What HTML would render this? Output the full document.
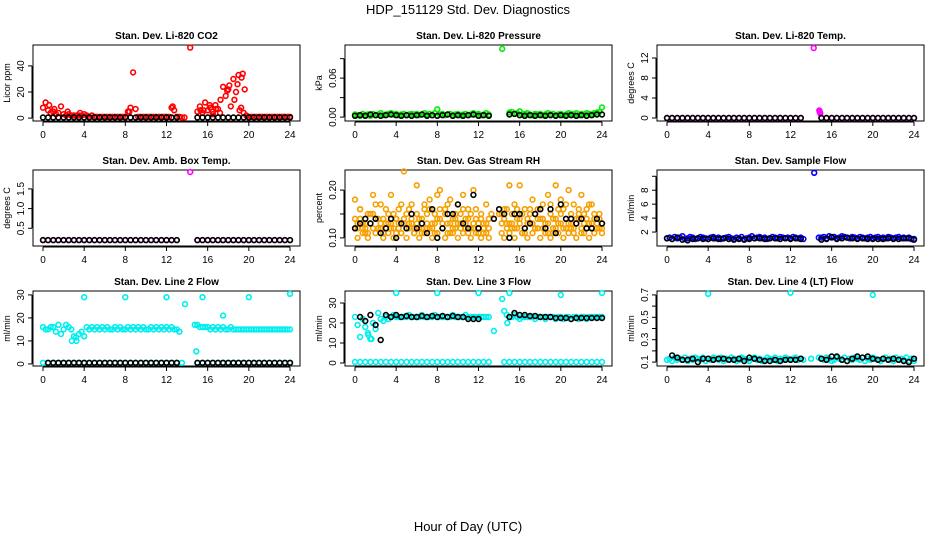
<!DOCTYPE html>
<html><head><meta charset="utf-8"><style>
body{margin:0;background:#fff;}
svg{display:block;font-family:"Liberation Sans",Arial,sans-serif;}
</style></head><body>
<svg id="c" width="936" height="540" viewBox="0 0 936 540">
<text x="468" y="14" text-anchor="middle" font-size="13">HDP_151129  Std. Dev. Diagnostics</text>
<text x="468" y="531" text-anchor="middle" font-size="13">Hour of Day (UTC)</text>
</svg>
<script>
// ---- data (values on 0.25h grid = Q, 0.5h grid = H) ----
const xTicks=[0,4,8,12,16,20,24];
const co2Red=[8,12,6,4,5,3,4,9,3,2,3,2, 2,2,2,2,3,2,1,2,1,1,1,1, 1,1,1,1,1,1,1,1,1,5,8,35, 7,1,1,1,1,1,1,1,1,1,1,1, 1,1,8,6,1,1,0.5,0.5,null,null,null,null, 5,9,4,12,6,8,5,10,7,14,24,17, 22,9,30,20,33,8,4,2,1,1,1,1, 1,1,1,1,1,1,1,1,1,1,1,1, 1];
const co2RedExtraH=[14.3,15.6,16.2,16.8,17.2,17.9,18.1,18.6,19.3,19.1,19.6,0.6,1.1,2.4,3.6,8.4,12.6,15.3,16.5,18.9,19.4];
const co2RedExtraV=[54,6,10,7,4,21,25,14,31,6,22,10,7,5,4,5,9,6,3,26,34];
const co2Black=[0.5,0.5,0.5,0.5,0.5,0.5,0.5,0.5,0.5,0.5,0.5,0.5,0.5,0.5,0.5,0.5,0.5,0.5,0.5,0.5,0.5,0.5,0.5,0.5,0.5,0.5,0.5,null,null,null,0.5,0.5,0.5,0.5,0.5,0.5,0.5,0.5,0.5,0.5,0.5,0.5,0.5,0.5,0.5,0.5,0.5,0.5,0.5];
const presGreen=[.004,.003,.002,.005,.003,.004,.002,.005,.003,.004,.006,.003, .004,.005,.006,.004,.005,.003,.004,.005,.003,.004,.005,.004, .005,.003,.004,.006,.004,.005,.003,.006,.012,.004,.005,.003, .004,.005,.003,.004,.005,.003,.004,.005,.003,.004,.006,.004, .005,.003,.004,.006,.004,null,null,null,null,null,null,null, .007,.008,.005,.006,.009,.004,.005,.006,.004,.003,.005,.004, .005,.003,.004,.006,.004,.005,.003,.004,.005,.003,.004,.006, .005,.004,.006,.003,.005,.004,.006,.005,.004,.006,.007,.008, .015];
const presExtraH=[14.3];const presExtraV=[0.105];
const presBlack=[.002,.003,.002,.004,.003,.002,.003,.004,.003,.002,.003,.002,.003,.004,.002,.003,.002,.003,.004,.002,.003,.002,.003,.004,.002,.003,.002,null,null,null,.004,.005,.003,.002,.003,.002,.003,.002,.003,.002,.003,.002,.003,.002,.003,.002,.003,.004,.004];
const tempMag=[0,0,0,0,0,0,0,0,0,0,0,0,0,0,0,0,0,0,0,0,0,0,0,0,0,0,0,null,null,null,0,0,0,0,0,0,0,0,0,0,0,0,0,0,0,0,0,0,0];
const tempExtraH=[14.25,14.8,14.85,14.9];const tempExtraV=[14,1.5,1.2,0.9];
const tempBlack=[0,0,0,0,0,0,0,0,0,0,0,0,0,0,0,0,0,0,0,0,0,0,0,0,0,0,0,null,null,null,0,0,0,0,0,0,0,0,0,0,0,0,0,0,0,0,0,0,0];
const ambMag=[0.2,0.2,0.2,0.2,0.2,0.2,0.2,0.2,0.2,0.2,0.2,0.2,0.2,0.2,0.2,0.2,0.2,0.2,0.2,0.2,0.2,0.2,0.2,0.2,0.2,0.2,0.2,null,null,null,0.2,0.2,0.2,0.2,0.2,0.2,0.2,0.2,0.2,0.2,0.2,0.2,0.2,0.2,0.2,0.2,0.2,0.2,0.2];
const ambExtraH=[14.3];const ambExtraV=[1.93];
const ambBlack=[0.2,0.2,0.2,0.2,0.2,0.2,0.2,0.2,0.2,0.2,0.2,0.2,0.2,0.2,0.2,0.2,0.2,0.2,0.2,0.2,0.2,0.2,0.2,0.2,0.2,0.2,0.2,null,null,null,0.2,0.2,0.2,0.2,0.2,0.2,0.2,0.2,0.2,0.2,0.2,0.2,0.2,0.2,0.2,0.2,0.2,0.2,0.2];
const rhA=[.18,.13,.16,.12,.11,.15,.13,.19,.14,.12,.17,.11, .13,.15,.19,.12,.14,.16,.11,.239,.15,.13,.17,.12, .21,.14,.11,.16,.13,.18,.12,.15,.19,.20,.13,.16, .11,.18,.14,.12,.17,.15,.19,.13,.16,.12,.20,.14, .11,.15,.13,.17,.12,.15,null,null,.15,.15,.16,.13, .21,.12,.17,.14,.21,.11,.16,.13,.15,.18,.12,.16, .14,.17,.12,.19,.15,.11,.21,.13,.18,.16,.14,.20, .12,.17,.13,.15,.19,.11,.16,.13,.17,.14,.12,.15, .13];
const rhB=[.12,.10,.14,.11,.13,.10,.15,.12,.11,.14,.12,.10, .12,.11,.13,.10,.14,.12,.11,.13,.10,.12,.14,.11, .13,.10,.12,.11,.15,.12,.10,.13,.11,.14,.12,.10, .13,.11,.12,.14,.10,.13,.11,.12,.14,.10,.12,.11, .13,.10,.12,.11,.10,null,null,null,null,.13,.10,.12, .11,.13,.10,.12,.14,.11,.12,.10,.13,.11,.12,.14, .10,.12,.11,.13,.10,.12,.14,.11,.13,.10,.12,.11, .13,.12,.10,.14,.11,.13,.12,.10,.12,.11,.13,.12, .11];
const rhC=[.14,.12,.16,.13,.12,.11,.13,.15,.17,.12,.13,.14, .16,.13,.12,.15,.11,.13,.17,.14,.12,.16,.13,.11, .15,.12,.14,.17,.12,.16,.13,.11,.14,.16,.12,.15, .17,.13,.11,.15,.13,.12,.16,.14,.11,.15,.13,.16, .12,.14,.11,.13,.14,null,null,null,null,.11,.14,.16, .13,.15,.12,.16,.13,.15,.11,.14,.16,.13,.15,.12, .16,.14,.13,.11,.17,.14,.12,.16,.15,.12,.17,.13, .15,.11,.14,.16,.12,.15,.14,.17,.13,.15,.12,.14, .12];
const rhBlack=[.12,.13,.14,.13,.14,.11,.12,.14,.10,.13,.12,.15, .12,.13,.11,.16,.10,.12,.15,.15,.17,.13,.12,.19, .12,null,null,.14,.16,.15,.10,.15,.15,.12,.13,.15, .16,.12,.16,.11,.17,.14,.14,.13,.14,.12,.12,.14, .13];
const flowBlue=[1.1,1.2,1.0,1.3,1.1,1.2,1.4,1.0,1.1,1.3,1.2,1.0, 1.1,1.3,1.2,1.1,1.0,1.2,1.3,1.1,1.2,1.0,1.1,1.2, 1.3,1.1,1.0,1.2,1.1,1.3,1.0,1.1,1.2,1.4,1.1,1.2, 1.3,1.1,1.2,1.0,1.1,1.3,1.2,1.1,1.3,1.2,1.1,1.2, 1.1,1.3,1.2,1.1,1.2,1.0,null,null,null,null,null,1.2, 1.2,1.3,1.1,1.4,1.2,1.3,1.1,1.2,1.4,1.3,1.2,1.1, 1.3,1.2,1.1,1.3,1.2,1.1,1.2,1.3,1.1,1.2,1.3,1.1, 1.2,1.1,1.3,1.2,1.1,1.2,1.3,1.1,1.2,1.1,1.2,1.0, 1.0];
const flowExtraH=[14.3];const flowExtraV=[10.5];
const flowBlack=[1.1,1.0,1.2,0.9,0.8,1.0,1.1,1.0,1.0,1.1,1.0,1.1, 1.0,0.9,1.0,0.9,1.0,1.1,1.1,1.0,1.1,1.1,1.0,1.1, 1.0,1.1,1.0,null,null,null,0.9,1.0,1.3,1.0,1.1,1.2, 1.1,1.0,1.1,1.0,1.0,1.0,1.0,1.1,1.0,1.0,1.1,1.1, 0.9];
const l2Cyan=[16,15,15,16,16,14,17,13,15,17,16,15, 12,10,13,14,12,16,15,16,15,16,15,16, 15,16,15,15,16,15,16,15,15,16,15,16, 15,16,15,16,15,15,16,15,16,15,16,15, 16,15,16,15,15,14,null,null,null,null,null,17, 17,16,16,16,16,15,16,15,16,15,16,15, 15,16,15,15,15,15,15,15,15,15,15,15, 15,15,15,15,15,15,15,15,15,15,15,15, 15];
const l2CyanZero=[0.5,0.5,0.5,0.5,0.5,0.5,0.5,0.5,0.5,0.5,0.5,0.5,0.5,0.5,0.5,0.5,0.5,0.5,0.5,0.5,0.5,0.5,0.5,0.5,0.5,0.5,0.5,0.5,null,null,0.5,0.5,0.5,0.5,0.5,0.5,0.5,0.5,0.5,0.5,0.5,0.5,0.5,0.5,0.5,0.5,0.5,0.5,0.5];
const l2ExtraH=[4,8,12,13.8,14.9,15.5,17.5,20,24,2.8,3.2];
const l2ExtraV=[29,29,29,26,5.5,29,21,29,30.5,10,11.5];
const l2Black=[null,0.5,0.5,0.5,0.5,0.5,0.5,0.5,0.5,0.5,0.5,0.5,0.5,0.5,0.5,0.5,0.5,0.5,0.5,0.5,0.5,0.5,0.5,0.5,0.5,0.5,0.5,null,null,null,0.5,0.5,0.5,0.5,0.5,0.5,0.5,0.5,0.5,0.5,0.5,0.5,0.5,0.5,0.5,0.5,0.5,0.5,0.5];
const l3Cyan=[23,19,13,22,18,15,12,20,17,25,22,21, 23,22,23,24,23,23,23,23,23,24,23,23, 23,23,24,23,23,23,23,24,23,23,23,23, 23,23,24,23,23,23,23,24,23,23,23,23, 23,23,23,23,23,null,null,null,null,null,26,24, 23,23,24,23,22,23,23,23,23,23,22,23, 23,23,22,23,23,23,22,23,23,22,23,23, 22,23,23,22,23,23,22,23,23,23,23,23, 23];
const l3CyanZero=[0.5,0.5,0.5,0.5,0.5,0.5,0.5,0.5,0.5,0.5,0.5,0.5,0.5,0.5,0.5,0.5,0.5,0.5,0.5,0.5,0.5,0.5,0.5,0.5,0.5,0.5,0.5,null,null,0.5,0.5,0.5,0.5,0.5,0.5,0.5,0.5,0.5,0.5,0.5,0.5,0.5,0.5,0.5,0.5,0.5,0.5,0.5,0.5];
const l3ExtraH=[4,8,12,13.5,14.3,14.8,15,20,24,1.3,1.6];
const l3ExtraV=[35,35,35,16,32,20,35,34,35,14,12];
const l3Black=[null,23,21,24,19,11.5,24,23,24,23,23.5,23, 23,23.5,23,23.5,23,23.5,23,23.5,23,23,22,22, 22,null,null,null,null,null,23,25,24,24,23.5,23.5, 23,23,23,22.5,22.5,22.5,22,22.5,22.5,22.5,22.5,22.5, 22.5];
const l4Cyan=[.12,.13,.11,.14,.12,.13,.12,.14,.11,.13,.12,.14, .13,.12,.14,.11,.13,.12,.14,.13,.12,.14,.11,.13, .12,.14,.13,.11,.12,.14,.13,.12,.11,.13,.14,.12, .13,.11,.12,.14,.13,.12,.14,.11,.13,.12,.14,.13, .12,.13,.14,.12,.13,.12,null,null,.13,null,null,.14, .13,.12,.14,.13,.11,.12,.14,.13,.12,.14,.11,.13, .12,.14,.13,.12,.14,.11,.13,.12,.14,.13,.12,.11, .13,.14,.12,.13,.11,.14,.12,.13,.12,.14,.11,.13, .11];
const l4ExtraH=[4,12,20];const l4ExtraV=[0.71,0.72,0.70];
const l4Black=[null,.16,.14,.12,.12,.13,.10,.13,.13,.12,.13,.13, .12,.12,.13,.11,.14,.13,.12,.11,.11,.12,.11,.12, .12,.12,.13,null,null,null,.13,.12,.15,.15,.12,.11,.13,.15,.14,.15,.13,.12,.13,.12,.13,.12,.11,.10,.13];

// ---- layout ----
const colL=[33,345,657], rowT=[45,170,291], rowH=[76,76,75], PW=267;
const panels=[
 {n:'co2',t:'Stan. Dev. Li-820 CO2',yl:'Licor ppm',r:0,c:0,lo:-2.2,hi:56,yt:[0,20,40],ytl:['0','20','40'],
  s:[{col:'#ff0000',st:0.25,v:co2Red},{col:'#ff0000',h:co2RedExtraH,v:co2RedExtraV},{col:'#000',st:0.5,v:co2Black}]},
 {n:'pressure',t:'Stan. Dev. Li-820 Pressure',yl:'kPa',r:0,c:1,lo:-0.006,hi:0.111,yt:[0,0.03,0.06,0.09],ytl:['0.00','','0.06',''],
  s:[{col:'#00ee00',st:0.25,v:presGreen},{col:'#00ee00',h:presExtraH,v:presExtraV},{col:'#000',st:0.5,v:presBlack}]},
 {n:'li820-temp',t:'Stan. Dev. Li-820 Temp.',yl:'degrees C',r:0,c:2,lo:-0.6,hi:14.6,yt:[0,4,8,12],ytl:['0','4','8','12'],
  s:[{col:'#ff00ff',st:0.5,v:tempMag},{col:'#ff00ff',h:tempExtraH,v:tempExtraV},{col:'#000',st:0.5,v:tempBlack}]},
 {n:'amb-box-temp',t:'Stan. Dev. Amb. Box Temp.',yl:'degrees C',r:1,c:0,lo:0.05,hi:1.98,yt:[0.5,1.0,1.5],ytl:['0.5','1.0','1.5'],
  s:[{col:'#ff00ff',st:0.5,v:ambMag},{col:'#ff00ff',h:ambExtraH,v:ambExtraV},{col:'#000',st:0.5,v:ambBlack}]},
 {n:'gas-rh',t:'Stan. Dev. Gas Stream RH',yl:'percent',r:1,c:1,lo:0.083,hi:0.242,yt:[0.10,0.15,0.20],ytl:['0.10','','0.20'],
  s:[{col:'#f5a000',st:0.25,v:rhA},{col:'#f5a000',st:0.25,v:rhB},{col:'#f5a000',st:0.25,v:rhC},{col:'#000',st:0.5,v:rhBlack}]},
 {n:'sample-flow',t:'Stan. Dev. Sample Flow',yl:'ml/min',r:1,c:2,lo:0.0,hi:10.9,yt:[2,4,6,8,10],ytl:['2','4','6','8',''],
  s:[{col:'#0000ff',st:0.25,v:flowBlue},{col:'#0000ff',h:flowExtraH,v:flowExtraV},{col:'#000',st:0.5,v:flowBlack}]},
 {n:'line2-flow',t:'Stan. Dev. Line 2 Flow',yl:'ml/min',r:2,c:0,lo:-0.9,hi:31.7,yt:[0,10,20,30],ytl:['0','10','20','30'],
  s:[{col:'#00eeee',st:0.25,v:l2Cyan},{col:'#00eeee',st:0.5,v:l2CyanZero},{col:'#00eeee',h:l2ExtraH,v:l2ExtraV},{col:'#000',st:0.5,v:l2Black}]},
 {n:'line3-flow',t:'Stan. Dev. Line 3 Flow',yl:'ml/min',r:2,c:1,lo:-1.5,hi:36,yt:[0,10,20,30],ytl:['0','10','20','30'],
  s:[{col:'#00eeee',st:0.25,v:l3Cyan},{col:'#00eeee',st:0.5,v:l3CyanZero},{col:'#00eeee',h:l3ExtraH,v:l3ExtraV},{col:'#000',st:0.5,v:l3Black}]},
 {n:'line4-flow',t:'Stan. Dev. Line 4 (LT) Flow',yl:'ml/min',r:2,c:2,lo:0.065,hi:0.735,yt:[0.1,0.2,0.3,0.4,0.5,0.6,0.7],ytl:['0.1','','0.3','','0.5','','0.7'],
  s:[{col:'#00eeee',st:0.25,v:l4Cyan},{col:'#00eeee',h:l4ExtraH,v:l4ExtraV},{col:'#000',st:0.5,v:l4Black}]}
];
const NS='http://www.w3.org/2000/svg', svg=document.getElementById('c');
function mk(tag,attrs,parent){const e=document.createElementNS(NS,tag);for(const k in attrs)e.setAttribute(k,attrs[k]);(parent||svg).appendChild(e);return e;}
panels.forEach(p=>{
 const L=colL[p.c],T=rowT[p.r],Hh=rowH[p.r],B=T+Hh;
 const xs=h=>L+10+h/24*247, ys=v=>B-(v-p.lo)/(p.hi-p.lo)*Hh;
 const g=mk('g',{});
 
 
 const ti=mk('text',{x:L+PW/2,y:T-6,'text-anchor':'middle','font-size':10,'font-weight':'bold'},g);ti.textContent=p.t;
 
 
 const fr=mk('rect',{x:L,y:T,width:PW,height:Hh,fill:'none',stroke:'#000','stroke-width':1},g);
 
 
 const xa=mk('g',{},g);
 
 
 mk('line',{x1:xs(0),x2:xs(24),y1:B+1,y2:B+1,stroke:'#000'},xa);
 xTicks.forEach(t=>{mk('line',{x1:xs(t),x2:xs(t),y1:B+1,y2:B+5,stroke:'#000'},xa);
  const tx=mk('text',{x:xs(t),y:B+17,'text-anchor':'middle','font-size':10},xa);tx.textContent=t;});
 const ya=mk('g',{},g);
 
 
 mk('line',{x1:L-1,x2:L-1,y1:ys(p.yt[0]),y2:ys(p.yt[p.yt.length-1]),stroke:'#000'},ya);
 p.yt.forEach((t,i)=>{const y=ys(t);mk('line',{x1:L-5,x2:L-1,y1:y,y2:y,stroke:'#000'},ya);
  if(p.ytl[i]){const tx=mk('text',{x:L-9,y:y,'text-anchor':'middle','font-size':10,transform:`rotate(-90 ${L-9} ${y})`},ya);tx.textContent=p.ytl[i];}});
 const yl=mk('text',{x:L-23,y:T+Hh/2,'text-anchor':'middle','font-size':9,transform:`rotate(-90 ${L-23} ${T+Hh/2})`},g);yl.textContent=p.yl;
 
 
 p.s.forEach((s,si)=>{
  const sg=mk('g',{fill:'none',stroke:s.col,'stroke-width':1.6},g);
  
  
  s.v.forEach((v,i)=>{if(v===null)return;const h=s.h?s.h[i]:i*s.st;
   const c=mk('circle',{cx:xs(h).toFixed(1),cy:ys(v).toFixed(1),r:2.4},sg);
   
   });
 });
});
</script>
</body></html>
